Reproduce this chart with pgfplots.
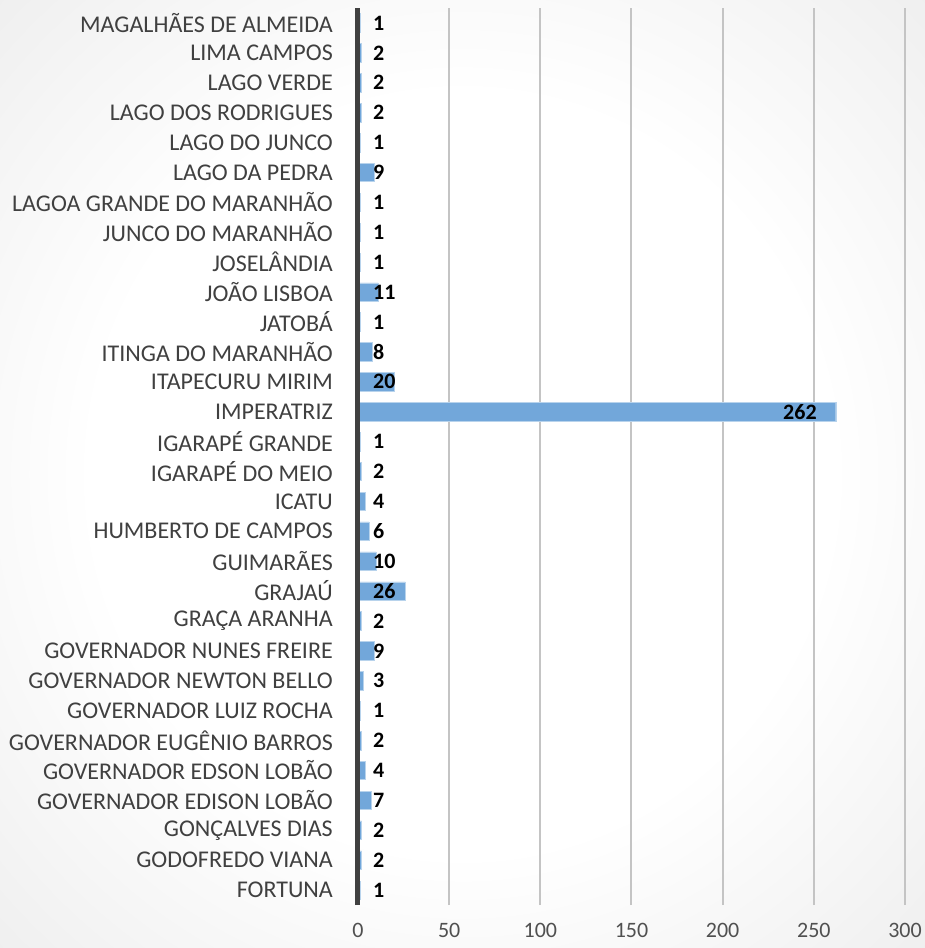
\documentclass[border=0pt]{standalone}
\usepackage{fontspec}
\setmainfont{Carlito}
\usepackage{pgfplots}
\pgfplotsset{compat=1.18}

\definecolor{barblue}{HTML}{72A7DA}
\definecolor{gridgray}{HTML}{C4C4C4}
\definecolor{labelgray}{HTML}{404040}
\definecolor{tickgray}{HTML}{505050}
\definecolor{bgedge}{HTML}{CBCBCB}
\pgfdeclareradialshading{bgshade}{\pgfpoint{0bp}{0bp}}{color(0bp)=(white); color(20bp)=(white); color(71bp)=(bgedge); color(75bp)=(bgedge)}

\begin{document}
\begin{tikzpicture}
\useasboundingbox (-358pt,-43pt) rectangle (567pt,905pt);
\shade[shading=bgshade] (-358pt,-43pt) rectangle (567pt,905pt);
\begin{axis}[
    at={(0pt,0pt)}, anchor=south west,
    scale only axis,
    width=547pt, height=897pt,
    xbar,
    bar width=18.5pt,
    xmin=0, xmax=300,
    ymin=-0.5, ymax=29.5,
    xtick={0,50,...,300},
    ytick={0,...,29},
    yticklabels={FORTUNA,GODOFREDO VIANA,GONÇALVES DIAS,GOVERNADOR EDISON LOBÃO,GOVERNADOR EDSON LOBÃO,GOVERNADOR EUGÊNIO BARROS,GOVERNADOR LUIZ ROCHA,GOVERNADOR NEWTON BELLO,GOVERNADOR NUNES FREIRE,GRAÇA ARANHA,GRAJAÚ,GUIMARÃES,HUMBERTO DE CAMPOS,ICATU,IGARAPÉ DO MEIO,IGARAPÉ GRANDE,IMPERATRIZ,ITAPECURU MIRIM,ITINGA DO MARANHÃO,JATOBÁ,JOÃO LISBOA,JOSELÂNDIA,JUNCO DO MARANHÃO,LAGOA GRANDE DO MARANHÃO,LAGO DA PEDRA,LAGO DO JUNCO,LAGO DOS RODRIGUES,LAGO VERDE,LIMA CAMPOS,MAGALHÃES DE ALMEIDA},
    major tick length=0pt,
    axis line style={draw=none},
    xmajorgrids,
    grid style={line width=2pt, color=gridgray},
    /pgf/number format/assume math mode=true,
    y tick label style={font=\fontsize{24}{27}\selectfont, text=labelgray, inner sep=0pt, anchor=east, xshift=-25pt},
    x tick label style={font=\fontsize{22}{26}\selectfont, text=tickgray, inner sep=0pt, anchor=north, yshift=-18pt},
    clip=false,
]
\addplot[fill=barblue, draw=barblue!50!white, line width=0.4pt,
    visualization depends on={rawx \as \rawx},
    nodes near coords,
    every node near coord/.append style={font=\fontsize{22}{26}\selectfont\bfseries, text=black, inner sep=0pt, anchor=west,
        xshift={ifthenelse(\rawx>100,-52.7,15-\rawx*1.8233)}},
] coordinates {
    (1,0) (2,1) (2,2) (7,3) (4,4) (2,5) (1,6) (3,7) (9,8) (2,9)
    (26,10) (10,11) (6,12) (4,13) (2,14) (1,15) (262,16) (20,17) (8,18) (1,19)
    (11,20) (1,21) (1,22) (1,23) (9,24) (1,25) (2,26) (2,27) (2,28) (1,29)
};
\draw[line width=4.3pt, color=labelgray] ([xshift=-0.4pt]axis cs:0,-0.5) -- ([xshift=-0.4pt]axis cs:0,29.5);
\end{axis}
\end{tikzpicture}
\end{document}
